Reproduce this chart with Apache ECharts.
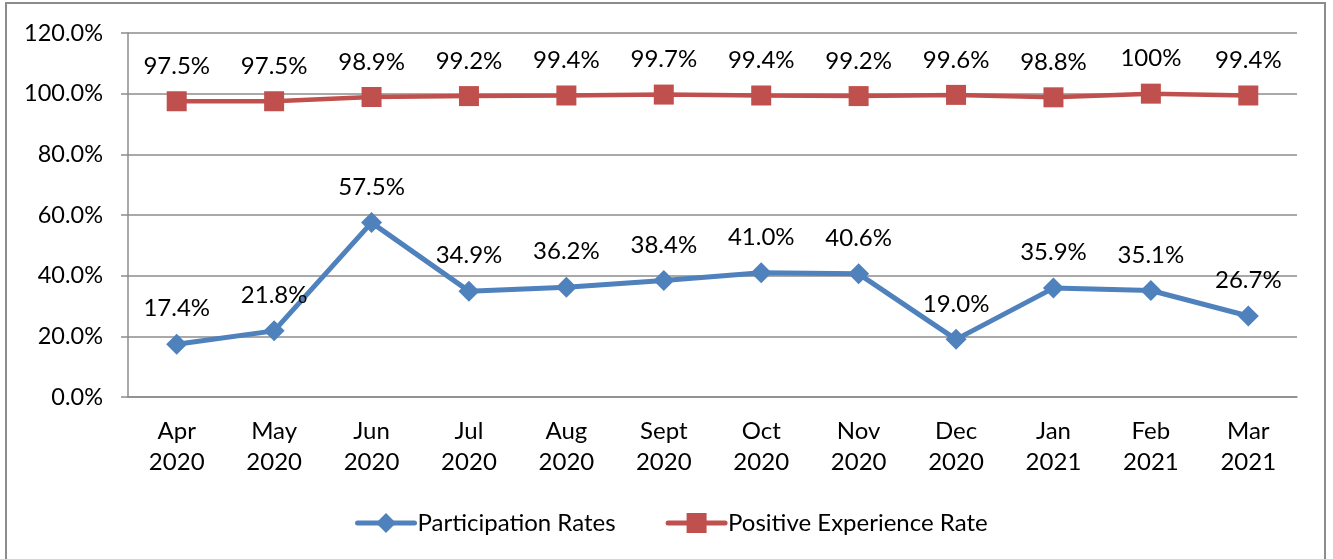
<!DOCTYPE html>
<html>
<head>
<meta charset="utf-8">
<title>Participation and Positive Experience Rates</title>
<script src="https://cdn.jsdelivr.net/npm/echarts@6/dist/echarts.min.js"></script>
<style>
    html, body { margin: 0; padding: 0; background: #fff; }
    #chart { width: 1333px; height: 559px; }
</style>
</head>
<body>
<div id="chart"></div>
<script>
// categories (month / year)
var months = ['Apr\n2020', 'May\n2020', 'Jun\n2020', 'Jul\n2020', 'Aug\n2020', 'Sept\n2020',
              'Oct\n2020', 'Nov\n2020', 'Dec\n2020', 'Jan\n2021', 'Feb\n2021', 'Mar\n2021'];

// series values, in percent
var participation = [17.4, 21.8, 57.5, 34.9, 36.2, 38.4, 41.0, 40.6, 19.0, 35.9, 35.1, 26.7];
var positive = [97.5, 97.5, 98.9, 99.2, 99.4, 99.7, 99.4, 99.2, 99.6, 98.8, 100, 99.4];

// y axis ticks
var yMin = 0;
var yMax = 120;
var yStep = 20;

var font = 'Lato, "Open Sans", sans-serif';
var gray = '#8c8c8c';

// 数据标签：100 显示成 100%，其他保留一位小数
function pctLabel(p) {
    var v = p.value;
    return v === 100 ? '100%' : v.toFixed(1) + '%';
}

var option = {
    animation: false,
    textStyle: { fontFamily: font, color: '#000' },
    graphic: [{
        type: 'rect',
        shape: { x: 6, y: 3, width: 1319, height: 600 },
        style: { fill: null, stroke: gray, lineWidth: 2 },
        silent: true
    }],
    grid: { left: 128, right: 36, top: 33, bottom: 162 },
    legend: {
        left: 350,
        top: 506,
        itemWidth: 57,
        itemHeight: 25,
        itemGap: 50,
        lineStyle: { width: 5, cap: 'round' },
        textStyle: { fontFamily: font, fontSize: 24, color: '#000', padding: [0, 0, 0, -2] },
        data: ['Participation Rates', 'Positive Experience Rate']
    },
    xAxis: {
        type: 'category',
        data: months,
        boundaryGap: true,
        axisLine: { lineStyle: { color: gray, width: 1.5 } },
        axisTick: { length: 8, lineStyle: { color: gray, width: 1.5 } },
        axisLabel: { fontFamily: font, fontSize: 24, color: '#000', margin: 19, lineHeight: 31 }
    },
    yAxis: {
        type: 'value',
        min: yMin,
        max: yMax,
        interval: yStep,
        axisLine: { show: true, lineStyle: { color: gray, width: 1.5 } },
        axisTick: { show: true, length: 7, lineStyle: { color: gray, width: 1.5 } },
        splitLine: { lineStyle: { color: gray, width: 1.5 } },
        axisLabel: {
            fontFamily: font, fontSize: 23.5, color: '#000', margin: 25,
            formatter: function (v) { return v.toFixed(1) + '%'; }
        }
    },
    series: [
        {
            name: 'Participation Rates',
            type: 'line',
            data: participation,
            symbol: 'diamond',
            symbolSize: 21,
            itemStyle: { color: '#4f81bd' },
            lineStyle: { color: '#4f81bd', width: 5 },
            label: {
                show: true, position: 'top', distance: 13,
                fontFamily: font, fontSize: 24, color: '#000',
                formatter: pctLabel
            }
        },
        {
            name: 'Positive Experience Rate',
            type: 'line',
            data: positive,
            symbol: 'rect',
            symbolSize: 20,
            itemStyle: { color: '#c0504d' },
            lineStyle: { color: '#c0504d', width: 4.5 },
            label: {
                show: true, position: 'top', distance: 13,
                fontFamily: font, fontSize: 24, color: '#000',
                formatter: pctLabel
            }
        }
    ]
};

var myChart = echarts.init(document.getElementById('chart'));
myChart.setOption(option);
</script>
</body>
</html>
